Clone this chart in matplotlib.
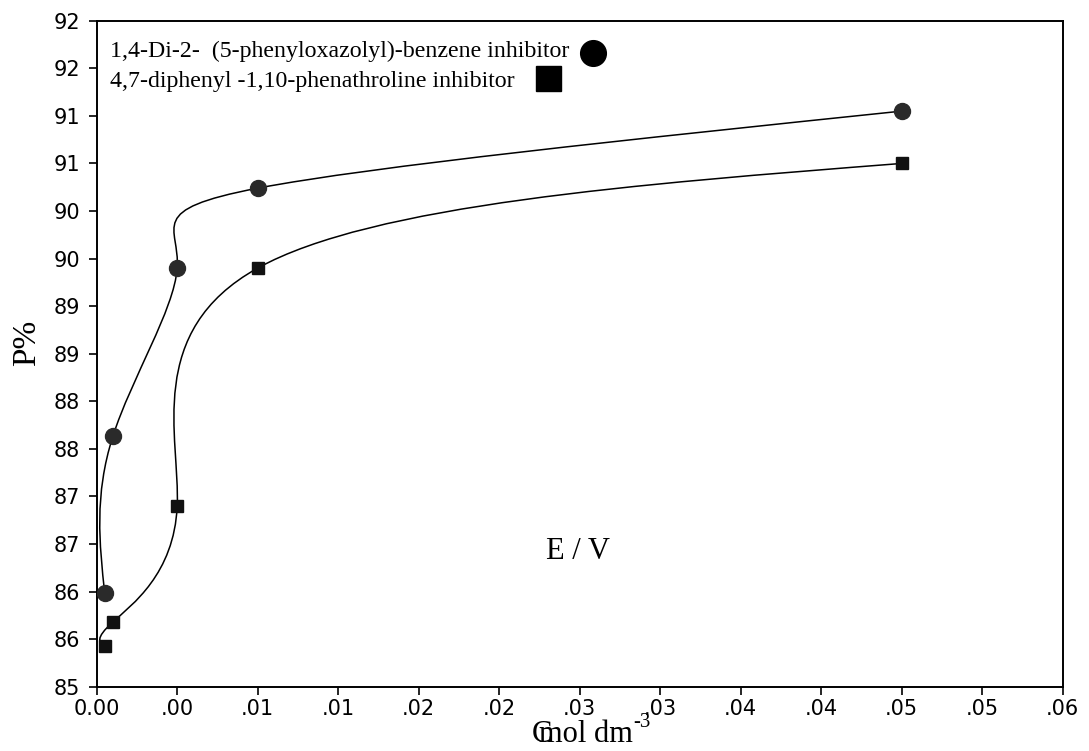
import numpy as np
import matplotlib
matplotlib.use("Agg")
import matplotlib.pyplot as plt
from matplotlib.path import Path
from matplotlib.patches import PathPatch

# concentration (mol dm-3) and P% for the two inhibitors
conc = [0.0005, 0.001, 0.005, 0.01, 0.05]
p_oxazolyl = [85.98, 87.63, 89.40, 90.24, 91.05]
p_phenanthroline = [85.43, 85.68, 86.90, 89.40, 90.50]

label_oxazolyl = "1,4-Di-2-  (5-phenyloxazolyl)-benzene inhibitor"
label_phenanthroline = "4,7-diphenyl -1,10-phenathroline inhibitor"

xtick_vals = [0.0, 0.005, 0.01, 0.015, 0.02, 0.025, 0.03, 0.035, 0.04, 0.045, 0.05, 0.055, 0.06]
xtick_labels = ["0.00", ".00", ".01", ".01", ".02", ".02", ".03", ".03", ".04", ".04", ".05", ".05", ".06"]
ytick_vals = [85.0, 85.5, 86.0, 86.5, 87.0, 87.5, 88.0, 88.5, 89.0, 89.5, 90.0, 90.5, 91.0, 91.5, 92.0]
ytick_labels = ["85", "86", "86", "87", "87", "88", "88", "89", "89", "90", "90", "91", "91", "92", "92"]


def spline_path(xs, ys):
    """
    Smooth curve through the points (natural parametric spline),
    handed to matplotlib as bezier segments
    """
    pts = np.column_stack([xs, ys]).astype(float)
    n = len(pts)
    A = np.zeros((n, n))
    rhs = np.zeros((n, 2))
    A[0, 0] = 1
    A[-1, -1] = 1
    for i in range(1, n - 1):
        A[i, i - 1] = 1
        A[i, i] = 4
        A[i, i + 1] = 1
        rhs[i] = 6 * (pts[i + 1] - 2 * pts[i] + pts[i - 1])
    M = np.linalg.solve(A, rhs)

    verts = [pts[0]]
    codes = [Path.MOVETO]
    for i in range(n - 1):
        d = pts[i + 1] - pts[i]
        d0 = d - (2 * M[i] + M[i + 1]) / 6
        d1 = d + (M[i] + 2 * M[i + 1]) / 6
        verts += [pts[i] + d0 / 3, pts[i + 1] - d1 / 3, pts[i + 1]]
        codes += [Path.CURVE4] * 3
    return Path(verts, codes)


fig = plt.figure(figsize=(10.89, 7.51), dpi=100)
ax = fig.add_axes([0.0888, 0.0856, 0.8871, 0.8868])

for ys in (p_oxazolyl, p_phenanthroline):
    ax.add_patch(PathPatch(spline_path(conc, ys), fill=False, lw=1.1,
                           edgecolor='black', zorder=2))

ax.plot(conc, p_oxazolyl, linestyle='None', marker='o', markersize=11.5,
        color='#2a2a2a', zorder=3)
ax.plot(conc, p_phenanthroline, linestyle='None', marker='s', markersize=8,
        color='#111111', zorder=3)

ax.set_xlim(0, 0.06)
ax.set_ylim(85, 92)
ax.set_xticks(xtick_vals)
ax.set_xticklabels(xtick_labels, family='DejaVu Sans', fontsize=15)
ax.set_yticks(ytick_vals)
ax.set_yticklabels(ytick_labels, family='DejaVu Sans', fontsize=15)
ax.tick_params(axis='x', direction='out', length=6, width=1.2, pad=3)
ax.tick_params(axis='y', direction='out', length=6, width=1.2, pad=6)
for sp in ax.spines.values():
    sp.set_linewidth(1.4)

# legend made by hand, like the original
ax.text(0.0138, 0.946, label_oxazolyl, transform=ax.transAxes, family='Liberation Serif',
        fontsize=17.2, va='baseline', ha='left')
ax.text(0.0138, 0.901, label_phenanthroline, transform=ax.transAxes, family='Liberation Serif',
        fontsize=17.2, va='baseline', ha='left')
ax.plot([0.514], [0.952], transform=ax.transAxes, marker='o', markersize=18.5,
        color='black', linestyle='None', clip_on=False)
ax.plot([0.467], [0.914], transform=ax.transAxes, marker='s', markersize=18,
        color='black', linestyle='None', clip_on=False)

ax.text(0.4977, 0.2027, "E / V", transform=ax.transAxes, family='Liberation Serif',
        fontsize=22, ha='center', va='center')

# axis titles
fig.text(0.025, 0.543, "P%", rotation=90, family='Liberation Serif', fontsize=24,
         ha='center', va='center')
fig.text(0.488, 0.012, "C", family='Liberation Serif', fontsize=22, ha='left', va='baseline')
unit = fig.text(0.495, 0.012, "mol dm", family='Liberation Serif', fontsize=22,
                ha='left', va='baseline')
fig.text(0.5815, 0.032, "-3", family='Liberation Serif', fontsize=15,
         ha='left', va='baseline')

fig.savefig('out.png', dpi=100)
